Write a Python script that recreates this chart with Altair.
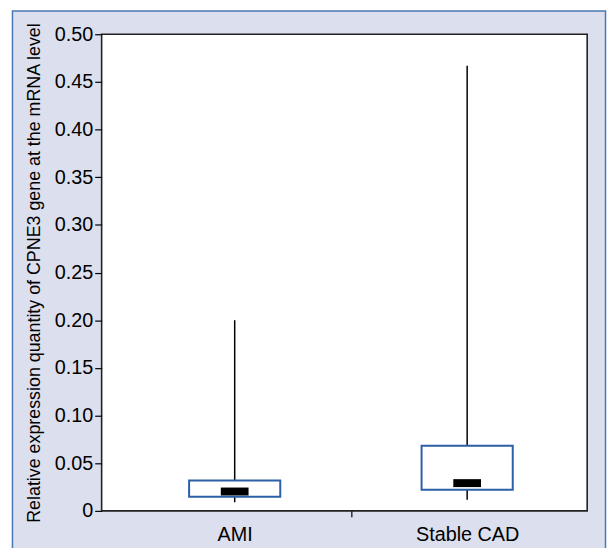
import altair as alt
import pandas as pd

# ---- data ----
groups = ["AMI", "Stable CAD"]
group_pos = [1, 2]
whisker_low = [0.009, 0.0117]
q1 = [0.0149, 0.0221]
median = [0.0203, 0.0291]
q3 = [0.0319, 0.0683]
whisker_high = [0.200, 0.467]
y_ticks = [0, 0.05, 0.10, 0.15, 0.20, 0.25, 0.30, 0.35, 0.40, 0.45, 0.50]
x_ticks = [1, 1.5, 2]

df = pd.DataFrame({
    "group": groups, "pos": group_pos, "lo": whisker_low, "q1": q1,
    "med": median, "q3": q3, "hi": whisker_high,
})

W, H = 490, 481
LAV = "#dcdfed"
FRAME = "#4a78b6"
BOXBLUE = "#2b60a6"
LABFONT = "Liberation Sans, Arial, sans-serif"

xscale = alt.Scale(domain=[0.449, 2.495], nice=False, zero=False)
yscale = alt.Scale(domain=[0, 0.5], nice=False)

xaxis = alt.Axis(
    values=x_ticks,
    labelExpr="datum.value == 1 ? 'AMI' : datum.value == 2 ? 'Stable CAD' : ''",
    title=None, domain=False, grid=False,
    tickSize=6, tickColor="black", tickWidth=1.2,
    tickOpacity={"condition": {"test": "datum.value == 1.5", "value": 1}, "value": 0},
    labelPadding=8, labelFont=LABFONT, labelFontSize=20, labelColor="black",
    labelFlush=False, labelOverlap=False, zindex=2,
)
yaxis = alt.Axis(
    values=y_ticks,
    labelExpr="datum.value == 0 ? '0' : format(datum.value, '.2f')",
    title="Relative expression quantity of CPNE3 gene at the mRNA level",
    titleFont=LABFONT, titleFontSize=18,
    titleFontWeight="normal", titleColor="black", titlePadding=11,
    domain=False, grid=False,
    tickSize=7, tickColor="black", tickWidth=1.2,
    labelPadding=2, labelFont=LABFONT, labelFontSize=20, labelColor="black",
    labelFlush=False, zindex=2,
)

base = alt.Chart(df)

frame = base.transform_filter("datum.pos == 1").mark_rect(
    fill=LAV, stroke=FRAME, strokeWidth=1.5
).encode(
    x=alt.value(-90), x2=alt.value(508.5), y=alt.value(-23.5), y2=alt.value(560)
)

plotbg = base.transform_filter("datum.pos == 1").mark_rect(
    fill="white", stroke="#222222", strokeWidth=1.6
).encode(
    x=alt.value(0), x2=alt.value(W), y=alt.value(0), y2=alt.value(H)
)

whisk = base.mark_rule(color="black", strokeWidth=1.5).encode(
    x=alt.X("pos:Q", scale=xscale, axis=xaxis),
    y=alt.Y("lo:Q", scale=yscale, axis=yaxis),
    y2="hi:Q",
)

box = base.mark_bar(size=92, fill="white", stroke=BOXBLUE, strokeWidth=2).encode(
    x=alt.X("pos:Q", scale=xscale),
    y=alt.Y("q1:Q", scale=yscale),
    y2="q3:Q",
)

med = base.mark_tick(orient="horizontal", size=28, thickness=8, color="black", opacity=1).encode(
    x=alt.X("pos:Q", scale=xscale),
    y=alt.Y("med:Q", scale=yscale),
)

chart = alt.layer(frame, plotbg, whisk, box, med).properties(
    width=W, height=H,
    autosize=alt.AutoSizeParams(type="none"),
    padding={"left": 94.5, "top": 24, "right": 20, "bottom": 35},
).configure_view(stroke=None).configure(background="white")

chart.save("out.html", embed_options={"renderer": "svg", "actions": False})
